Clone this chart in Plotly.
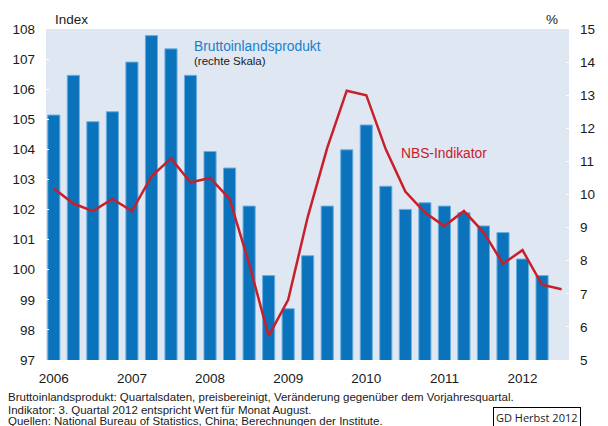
import plotly.graph_objects as go

# Quartale 2006Q1 .. 2012Q3
quartale = list(range(27))
jahre = ['2006', '2007', '2008', '2009', '2010', '2011', '2012']
jahr_pos = [0, 4, 8, 12, 16, 20, 24]

# BIP, Veraenderung gg. Vorjahresquartal in % (rechte Skala), bis 2012Q2
bip = [12.4, 13.6, 12.2, 12.5, 14.0, 14.8, 14.4, 13.6,
       11.3, 10.8, 9.65, 7.55, 6.55, 8.15, 9.65, 11.35,
       12.1, 10.25, 9.55, 9.75, 9.65, 9.45, 9.05, 8.85,
       8.05, 7.55]

# NBS-Indikator, Index (linke Skala)
nbs = [102.7, 102.2, 101.95, 102.35, 101.95, 103.1, 103.7, 102.9,
       103.05, 102.35, 100.2, 97.8, 99.0, 101.75, 104.05, 105.95,
       105.8, 104.0, 102.6, 101.9, 101.45, 101.95, 101.25, 100.2,
       100.65, 99.5, 99.35]

W, H = 608, 426
L, R, T, B = 46, 28, 29, 66
PW, PH = W - L - R, H - T - B


def px(x):
    return (x - L) / PW


def py(y):
    return (H - B - y) / PH


FONT = 'Liberation Sans, Arial, sans-serif'

fig = go.Figure()

fig.add_trace(go.Bar(
    x=quartale[:len(bip)], y=bip, width=0.62,
    marker=dict(color='#0b72bc', line=dict(color='#6aaee0', width=1)),
    yaxis='y', showlegend=False,
))

fig.add_trace(go.Scatter(
    x=quartale, y=nbs, mode='lines',
    line=dict(color='#c8202a', width=2.5),
    yaxis='y2', showlegend=False,
))

fig.update_layout(
    width=W, height=H,
    margin=dict(l=L, r=R, t=T, b=B),
    paper_bgcolor='white',
    plot_bgcolor='#dfe7f3',
    font=dict(family=FONT, size=13.5, color='#1a1a1a'),
    xaxis=dict(
        range=[-0.4, 26.38], tickvals=jahr_pos, ticktext=jahre,
        showgrid=False, zeroline=False, ticks='', showline=False,
        tickfont=dict(size=13.5), ticklabelstandoff=8,
    ),
    yaxis=dict(
        range=[5, 15], dtick=1, side='right',
        showgrid=False, zeroline=False, showline=False,
        ticks='inside', ticklen=3, tickcolor='white',
        tickfont=dict(size=13.5), ticklabelstandoff=10,
    ),
    yaxis2=dict(
        range=[97, 108], dtick=1, side='left', overlaying='y',
        showgrid=False, zeroline=False, showline=False,
        ticks='inside', ticklen=3, tickcolor='white',
        tickfont=dict(size=13.5), ticklabelstandoff=10,
    ),
)

anns = [
    dict(x=px(53), y=py(20), text='Index', xanchor='left', font=dict(size=13.5)),
    dict(x=px(571), y=py(20), text='%', xanchor='right', font=dict(size=13.5)),
    dict(x=px(195), y=py(46), text='Bruttoinlandsprodukt', xanchor='left',
         font=dict(size=13.8, color='#1a7fc8')),
    dict(x=px(195), y=py(61), text='(rechte Skala)', xanchor='left',
         font=dict(size=11.5)),
    dict(x=px(406), y=py(153), text='NBS-Indikator', xanchor='left',
         font=dict(size=13.8, color='#c8202a')),
    dict(x=px(5), y=py(397), text='Bruttoinlandsprodukt: Quartalsdaten, preisbereinigt, '
         'Veränderung gegenüber dem Vorjahresquartal.', xanchor='left', font=dict(size=11.5)),
    dict(x=px(5), y=py(409.5), text='Indikator: 3. Quartal 2012 entspricht Wert für Monat August.',
         xanchor='left', font=dict(size=11.5)),
    dict(x=px(5), y=py(421), text='Quellen: National Bureau of Statistics, China; '
         'Berechnungen der Institute.', xanchor='left', font=dict(size=11.5)),
    dict(x=px(502), y=py(417.5), text='GD Herbst 2012', xanchor='left',
         font=dict(size=11, family='Open Sans, sans-serif'),
         bordercolor='black', borderwidth=1, borderpad=2, bgcolor='white'),
]
for a in anns:
    a.update(xref='paper', yref='paper', yanchor='middle', showarrow=False)
    fig.add_annotation(**a)

fig.write_html('out.html', config={'displayModeBar': False},
               post_script="document.body.style.margin='0px';")
